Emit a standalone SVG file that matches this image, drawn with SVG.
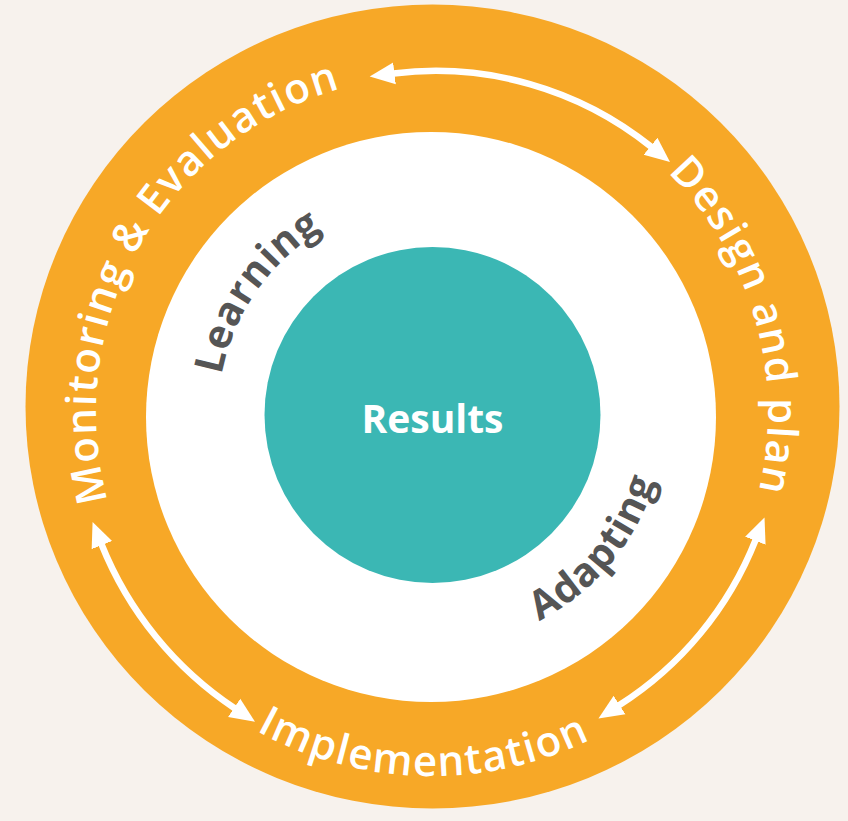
<svg xmlns="http://www.w3.org/2000/svg" width="848" height="821" viewBox="0 0 848 821">
  <style>
    .ring-text { font-family: "Open Sans", "Liberation Sans", sans-serif; font-weight: 600; font-size: 42px; fill: #ffffff; letter-spacing: 1.5px; }
    .inner-text { font-family: "Open Sans", "Liberation Sans", sans-serif; font-weight: 700; font-size: 40px; fill: #555555; letter-spacing: 0.8px; }
    .center-text { font-family: "Open Sans", "Liberation Sans", sans-serif; font-weight: 700; font-size: 39px; fill: #ffffff; }
    .arrow { fill: none; stroke: #ffffff; stroke-width: 6.5; marker-start: url(#head); marker-end: url(#head); }
  </style>
  <defs>
    <marker id="head" viewBox="0 0 26 24" refX="1" refY="12" markerWidth="26" markerHeight="24" markerUnits="userSpaceOnUse" orient="auto-start-reverse">
      <path d="M0,1 L25,12 L0,23 Z" fill="#ffffff"/>
    </marker>
    <path id="outerCW" d="M 432,748 A 336 336 0 1 1 432,76 A 336 336 0 1 1 432,748"/>
    <path id="outerCCW" d="M 68,412 A 364 364 0 1 0 796,412 A 364 364 0 1 0 68,412"/>
    <path id="innerCW" d="M 218,414 A 214 214 0 1 1 646,414 A 214 214 0 1 1 218,414"/>
    <path id="innerCCW" d="M 199,414 A 233 233 0 1 0 665,414 A 233 233 0 1 0 199,414"/>
  </defs>

  <rect x="0" y="0" width="848" height="821" fill="#F7F2ED"/>

  <g id="outer-ring">
    <ellipse cx="432.5" cy="406.5" rx="407" ry="402" fill="#F7A827"/>
  </g>
  <g id="inner-ring">
    <circle cx="431" cy="417" r="285" fill="#ffffff"/>
  </g>
  <g id="results">
    <circle cx="432.5" cy="415" r="168" fill="#3BB7B4"/>
    <text class="center-text" x="432.5" y="433" text-anchor="middle">Results</text>
  </g>

  <g id="monitoring-evaluation">
    <text class="ring-text"><textPath href="#outerCW" startOffset="33.2%" text-anchor="middle">Monitoring &amp; Evaluation</textPath></text>
  </g>
  <g id="design-and-plan">
    <text class="ring-text"><textPath href="#outerCW" startOffset="70.6%" text-anchor="middle">Design and plan</textPath></text>
  </g>
  <g id="implementation">
    <text class="ring-text"><textPath href="#outerCCW" startOffset="24.6%" text-anchor="middle">Implementation</textPath></text>
  </g>
  <g id="learning">
    <text class="inner-text"><textPath href="#innerCW" startOffset="9.7%" text-anchor="middle">Learning</textPath></text>
  </g>
  <g id="adapting">
    <text class="inner-text"><textPath href="#innerCCW" startOffset="39%" text-anchor="middle">Adapting</textPath></text>
  </g>

  <g id="connectors">
    <path class="arrow" d="M 393.5,73.5 A 344 344 0 0 1 651.3,146.9"/>
    <path class="arrow" d="M 101.5,544.2 A 356 356 0 0 0 235,708.5"/>
    <path class="arrow" d="M 755.7,539.8 A 348 348 0 0 1 618.7,705.6"/>
  </g>
</svg>
